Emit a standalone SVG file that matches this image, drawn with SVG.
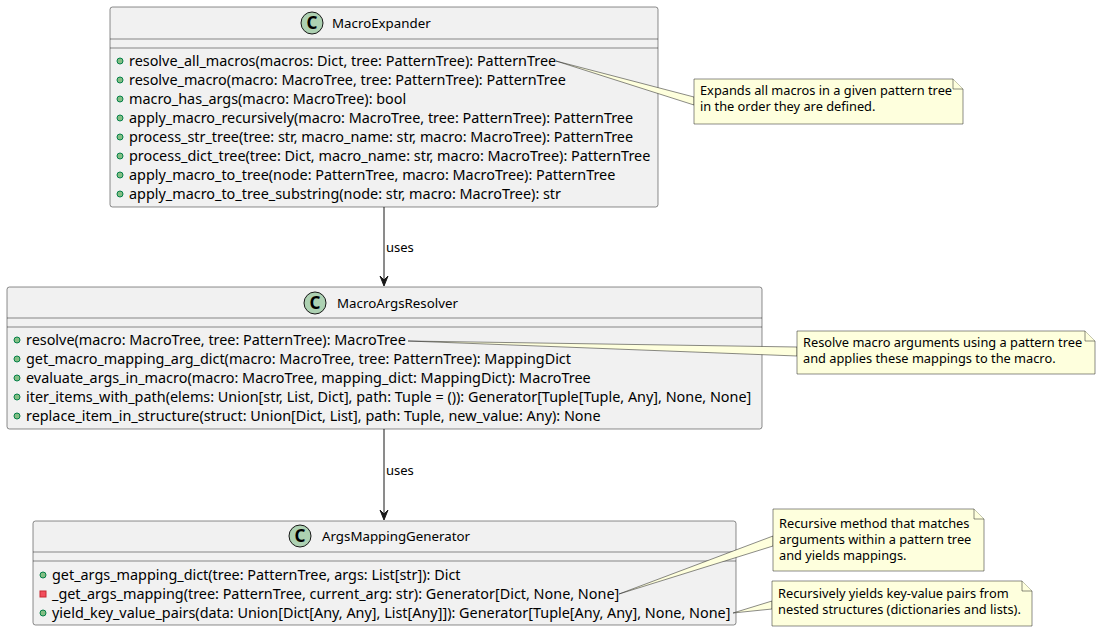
<svg xmlns="http://www.w3.org/2000/svg" width="1101" height="633" viewBox="0 0 1101 633">
<style>
text{font-family:"Noto Sans","Open Sans","DejaVu Sans",sans-serif;fill:#000}
.box{fill:#F1F1F1;stroke:#181818;stroke-width:0.5}
.sep{stroke:#181818;stroke-width:0.5}
.title{font-size:13.3px}
.m{font-size:14.4px}
.nt{font-size:12.8px}
.lbl{font-size:13px}
.circ{fill:#ADD1B2;stroke:#181818;stroke-width:1}
.cl{font-size:17px;font-weight:bold;fill:#000}
.pub{fill:#84BE84;stroke:#038048;stroke-width:1}
.priv{fill:#F24D5C;stroke:#C82930;stroke-width:1}
.note{fill:#FEFFDD;stroke:#181818;stroke-width:0.5}
.nl{fill:#FEFFDD;stroke:#181818;stroke-width:0.5}
.edge{stroke:#181818;stroke-width:1;fill:none}
.head{fill:#181818;stroke:#181818;stroke-width:1}
</style>
<rect width="1101" height="633" fill="#FFFFFF"/>

<g id="MacroExpander">
  <rect class="box" x="110" y="7" width="548" height="200" rx="2.5"/>
  <circle class="circ" cx="312" cy="23" r="11"/>
  <text class="cl" x="312" y="29" text-anchor="middle">C</text>
  <text class="title" x="332" y="28">MacroExpander</text>
  <line class="sep" x1="110" y1="39" x2="658" y2="39"/>
  <line class="sep" x1="110" y1="48" x2="658" y2="48"/>
  <circle class="pub" cx="120" cy="61" r="3"/><text class="m" x="129" y="66">resolve_all_macros(macros: Dict, tree: PatternTree): PatternTree</text>
  <circle class="pub" cx="120" cy="80" r="3"/><text class="m" x="129" y="85">resolve_macro(macro: MacroTree, tree: PatternTree): PatternTree</text>
  <circle class="pub" cx="120" cy="99" r="3"/><text class="m" x="129" y="104">macro_has_args(macro: MacroTree): bool</text>
  <circle class="pub" cx="120" cy="118" r="3"/><text class="m" x="129" y="123">apply_macro_recursively(macro: MacroTree, tree: PatternTree): PatternTree</text>
  <circle class="pub" cx="120" cy="137" r="3"/><text class="m" x="129" y="142">process_str_tree(tree: str, macro_name: str, macro: MacroTree): PatternTree</text>
  <circle class="pub" cx="120" cy="156" r="3"/><text class="m" x="129" y="161">process_dict_tree(tree: Dict, macro_name: str, macro: MacroTree): PatternTree</text>
  <circle class="pub" cx="120" cy="175" r="3"/><text class="m" x="129" y="180">apply_macro_to_tree(node: PatternTree, macro: MacroTree): PatternTree</text>
  <circle class="pub" cx="120" cy="194" r="3"/><text class="m" x="129" y="199">apply_macro_to_tree_substring(node: str, macro: MacroTree): str</text>
</g>

<g id="MacroArgsResolver">
  <rect class="box" x="7" y="287" width="755" height="142" rx="2.5"/>
  <circle class="circ" cx="315" cy="303" r="11"/>
  <text class="cl" x="315" y="309" text-anchor="middle">C</text>
  <text class="title" x="337" y="308">MacroArgsResolver</text>
  <line class="sep" x1="7" y1="318" x2="762" y2="318"/>
  <line class="sep" x1="7" y1="327" x2="762" y2="327"/>
  <circle class="pub" cx="17" cy="340" r="3"/><text class="m" x="26" y="345">resolve(macro: MacroTree, tree: PatternTree): MacroTree</text>
  <circle class="pub" cx="17" cy="359" r="3"/><text class="m" x="26" y="364">get_macro_mapping_arg_dict(macro: MacroTree, tree: PatternTree): MappingDict</text>
  <circle class="pub" cx="17" cy="378" r="3"/><text class="m" x="26" y="383">evaluate_args_in_macro(macro: MacroTree, mapping_dict: MappingDict): MacroTree</text>
  <circle class="pub" cx="17" cy="397" r="3"/><text class="m" x="26" y="402">iter_items_with_path(elems: Union[str, List, Dict], path: Tuple = ()): Generator[Tuple[Tuple, Any], None, None]</text>
  <circle class="pub" cx="17" cy="416" r="3"/><text class="m" x="26" y="421">replace_item_in_structure(struct: Union[Dict, List], path: Tuple, new_value: Any): None</text>
</g>

<g id="ArgsMappingGenerator">
  <rect class="box" x="33" y="521" width="703" height="104" rx="2.5"/>
  <circle class="circ" cx="300" cy="536" r="11"/>
  <text class="cl" x="300" y="542" text-anchor="middle">C</text>
  <text class="title" x="322" y="541">ArgsMappingGenerator</text>
  <line class="sep" x1="33" y1="552" x2="736" y2="552"/>
  <line class="sep" x1="33" y1="561" x2="736" y2="561"/>
  <circle class="pub" cx="43" cy="575" r="3"/><text class="m" x="52" y="580">get_args_mapping_dict(tree: PatternTree, args: List[str]): Dict</text>
  <rect class="priv" x="40" y="591" width="6" height="6"/><text class="m" x="52" y="599">_get_args_mapping(tree: PatternTree, current_arg: str): Generator[Dict, None, None]</text>
  <circle class="pub" cx="43" cy="613" r="3"/><text class="m" x="52" y="618">yield_key_value_pairs(data: Union[Dict[Any, Any], List[Any]]): Generator[Tuple[Any, Any], None, None]</text>
</g>

<g id="connectors">
  <line class="edge" x1="384" y1="207" x2="384" y2="280"/>
  <polygon class="head" points="384,286 388,276 384,280 380,276"/>
  <text class="lbl" x="386" y="252">uses</text>
  <line class="edge" x1="384" y1="429" x2="384" y2="514"/>
  <polygon class="head" points="384,520 388,510 384,514 380,510"/>
  <text class="lbl" x="386" y="475">uses</text>
  <polygon class="nl" points="556,61 694,97 694,105"/>
  <polygon class="nl" points="408,341 797,347 797,356"/>
  <polygon class="nl" points="619,594 773,536 773,546"/>
  <polygon class="nl" points="733,613 772,601 772,609"/>
</g>

<g id="note1">
  <path class="note" d="M694,79 L694,124 L963,124 L963,89 L953,79 Z"/>
  <path class="note" d="M953,79 L953,89 L963,89"/>
  <text class="nt" x="700" y="95">Expands all macros in a given pattern tree</text>
  <text class="nt" x="700" y="111">in the order they are defined.</text>
</g>

<g id="note2">
  <path class="note" d="M797,331 L797,374 L1095,374 L1095,341 L1085,331 Z"/>
  <path class="note" d="M1085,331 L1085,341 L1095,341"/>
  <text class="nt" x="803" y="347">Resolve macro arguments using a pattern tree</text>
  <text class="nt" x="803" y="363">and applies these mappings to the macro.</text>
</g>

<g id="note3">
  <path class="note" d="M773,509 L773,571 L984,571 L984,519 L974,509 Z"/>
  <path class="note" d="M974,509 L974,519 L984,519"/>
  <text class="nt" x="779" y="528">Recursive method that matches</text>
  <text class="nt" x="779" y="544">arguments within a pattern tree</text>
  <text class="nt" x="779" y="560">and yields mappings.</text>
</g>

<g id="note4">
  <path class="note" d="M772,581 L772,626 L1032,626 L1032,591 L1022,581 Z"/>
  <path class="note" d="M1022,581 L1022,591 L1032,591"/>
  <text class="nt" x="778" y="598">Recursively yields key-value pairs from</text>
  <text class="nt" x="778" y="614">nested structures (dictionaries and lists).</text>
</g>
</svg>
